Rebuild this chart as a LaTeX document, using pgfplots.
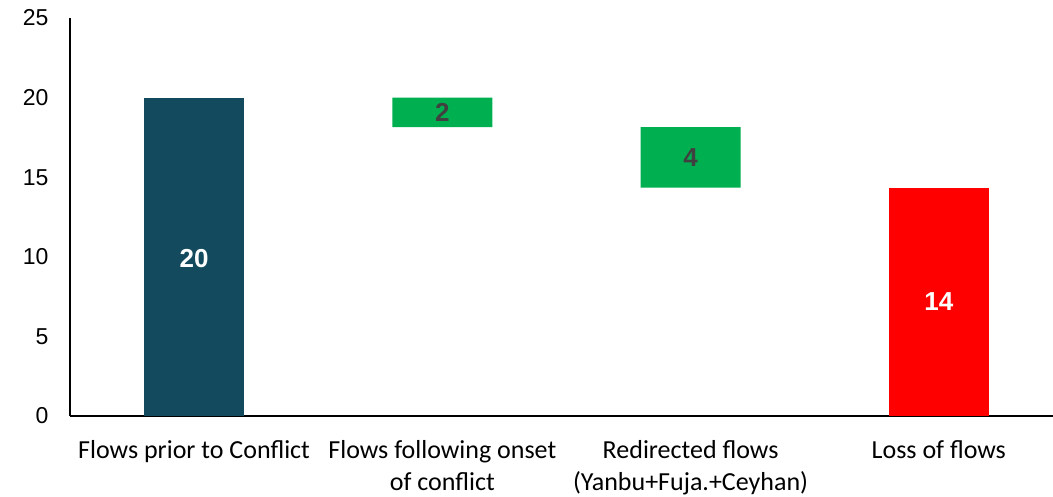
\documentclass[border=0pt]{standalone}
\usepackage{fontspec}
\setmainfont{Liberation Sans}
\newfontfamily\carl{Carlito}
\usepackage{pgfplots}
\pgfplotsset{compat=1.18}
\definecolor{cblue}{HTML}{134A5E}
\definecolor{cgreen}{HTML}{00B050}
\definecolor{cred}{HTML}{FF0000}
\definecolor{cgray}{HTML}{404040}
\begin{document}
\begin{tikzpicture}
\pgfplotsset{
  common/.style={
    scale only axis, width=983pt, height=398pt,
    xmin=-0.5, xmax=3.46, ymin=0, ymax=25,
    clip=false,
  }
}
\begin{axis}[common,
  ybar stacked, bar width=100pt,
  axis x line=bottom, axis y line=left,
  axis line style={-, line width=1.5pt, black},
  xtick={0,1,2,3},
  xticklabels={Flows prior to Conflict, Flows following onset\\of conflict, Redirected flows\\(Yanbu+Fuja.+Ceyhan), Loss of flows},
  xticklabel style={align=center, font=\carl\fontsize{26}{32}\selectfont, yshift=-21pt},
  ytick={0,5,10,15,20,25},
  yticklabel style={font=\fontsize{23}{26}\selectfont, xshift=-18pt},
  /pgf/number format/assume math mode=true,
  major tick length=0pt,
]
\addplot[fill=none, draw=none] coordinates {(0,0) (1,18.15) (2,14.35) (3,0)};
\addplot[fill=cblue, draw=none] coordinates {(0,20) (1,0) (2,0) (3,0)};
\addplot[fill=cgreen, draw=none] coordinates {(0,0) (1,1.85) (2,3.8) (3,0)};
\addplot[fill=cred, draw=none] coordinates {(0,0) (1,0) (2,0) (3,14.35)};
\end{axis}
\begin{axis}[common, hide axis,
  every node near coord/.append style={anchor=center, font=\bfseries\fontsize{26}{28}\selectfont},
]
\addplot[draw=none, mark=none, nodes near coords, point meta=explicit symbolic,
  every node near coord/.append style={text=white}]
  coordinates {(0,9.9) [20] (3,7.2) [14]};
\addplot[draw=none, mark=none, nodes near coords, point meta=explicit symbolic,
  every node near coord/.append style={text=cgray}]
  coordinates {(1,19.1) [2] (2,16.25) [4]};
\end{axis}
\pgfresetboundingbox
\path (-70pt,-80pt) rectangle (983pt,416pt);
\end{tikzpicture}
\end{document}
